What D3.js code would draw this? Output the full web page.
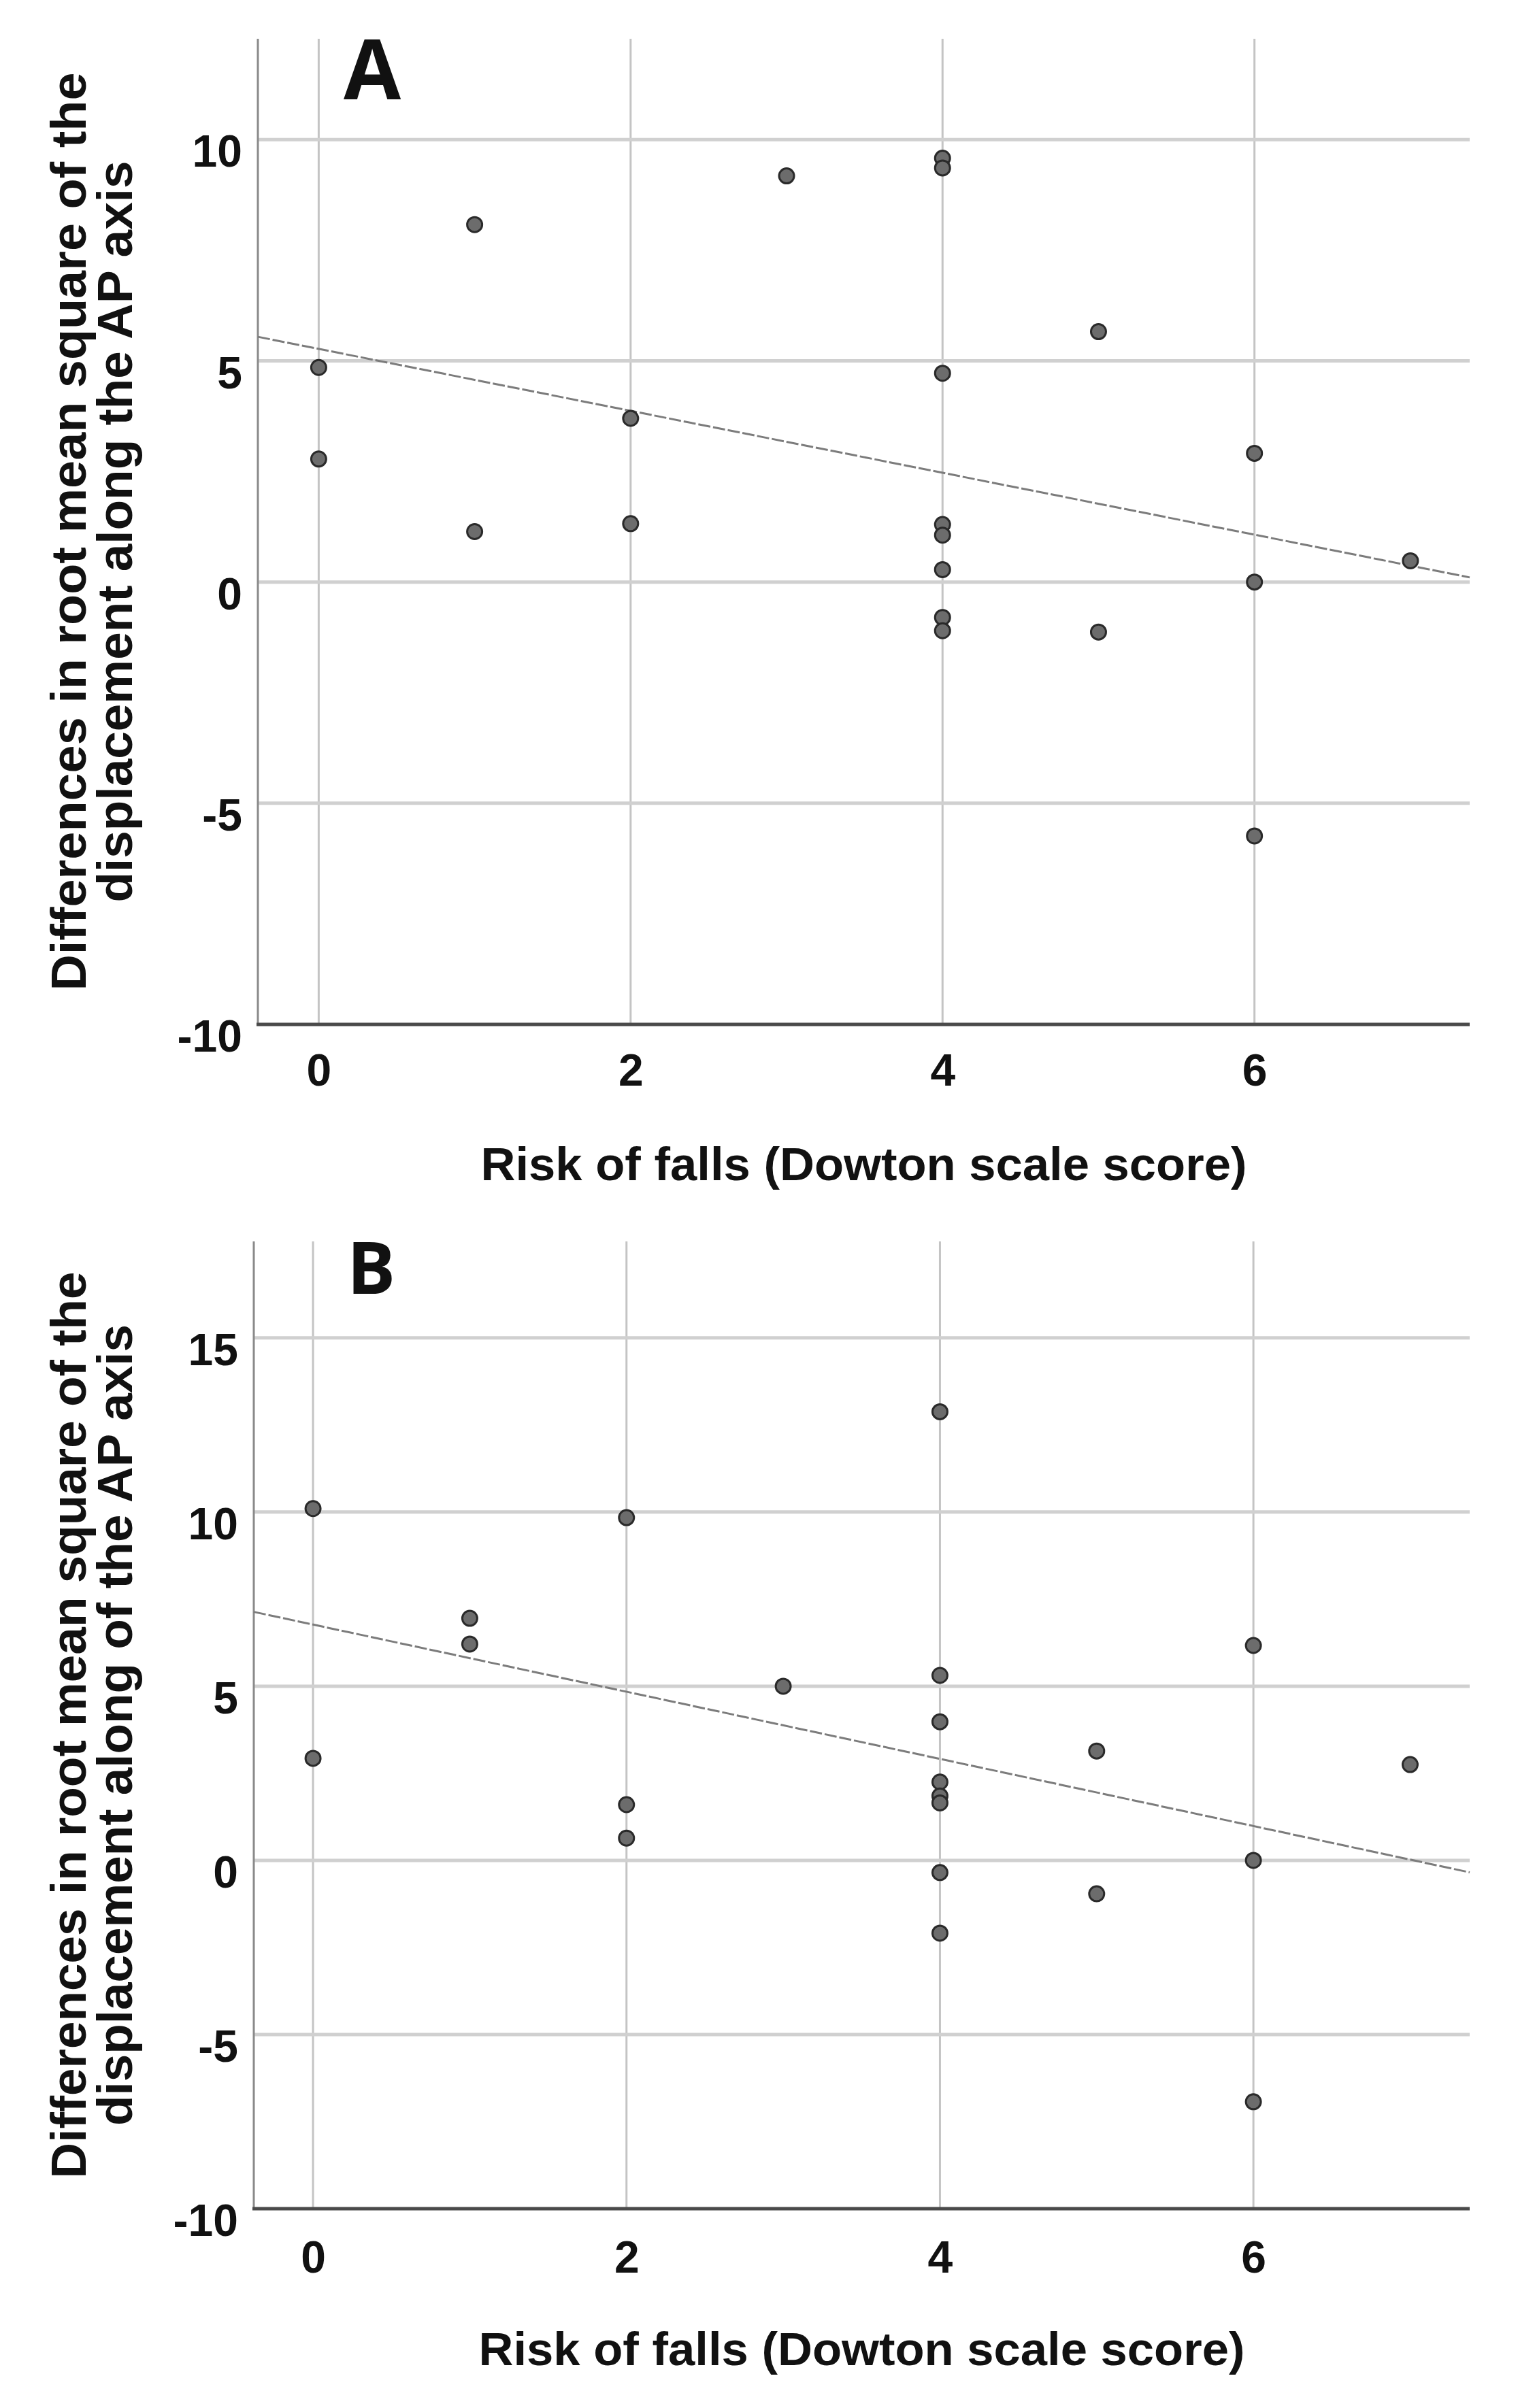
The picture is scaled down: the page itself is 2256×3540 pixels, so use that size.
<!DOCTYPE html>
<html>
<head>
<meta charset="utf-8">
<script src="https://cdn.jsdelivr.net/npm/d3@7"></script>
<style>
  body { margin: 0; background: #fff; }
  svg { display: block; }
  text { font-family: "Liberation Sans", Arial, sans-serif; font-weight: bold; fill: #111; }
</style>
</head>
<body>
<div id="chart"></div>
<script>
// values
var xTicks = [0, 2, 4, 6]
var yTicksA = [-10, -5, 0, 5, 10]
var yTicksB = [-10, -5, 0, 5, 10, 15]

// panel A: AP axis
var riskA = [0, 0, 1, 1, 2, 2, 3, 4, 4, 4, 4, 4, 4, 4, 4, 5, 5, 6, 6, 6, 7]
var diffA = [4.85, 2.78, 8.08, 1.14, 3.7, 1.32, 9.18, 9.58, 9.36, 4.72, 1.3, 1.06, 0.28, -0.8, -1.1, 5.66, -1.13, 2.91, 0.0, -5.74, 0.48]
var fitA = [5.27, -0.70]   // intercept, slope

// panel B
var riskB = [0, 0, 1, 1, 2, 2, 2, 3, 4, 4, 4, 4, 4, 4, 4, 4, 5, 5, 6, 6, 6, 7]
var diffB = [10.1, 2.93, 6.95, 6.21, 9.84, 1.6, 0.64, 5.0, 12.88, 5.31, 3.98, 2.25, 1.85, 1.65, -0.35, -2.09, 3.14, -0.96, 6.17, 0.0, -6.93, 2.75]
var fitB = [6.77, -0.964]

var xTitle = "Risk of falls (Dowton scale score)"
var yTitleA = ["Differences in root mean square of the", "displacement along the AP axis"]
var yTitleB = ["Differences in root mean square of the", "displacement along of the AP axis"]

var svgWidth = 2256
var svgHeight = 3540

var svg = d3.select("#chart")
    .append("svg")
    .attr("width", svgWidth)
    .attr("height", svgHeight)

svg.append("rect").attr("width", svgWidth).attr("height", svgHeight).attr("fill", "#fff")

function drawPanel(p) {
    var g = svg.append("g")

    var xScale = d3.scaleLinear().domain(p.xDomain).range([p.left, p.right])
    var yScale = d3.scaleLinear().domain(p.yDomain).range([p.bottom, p.top])

    // vertical grid
    g.append("g").selectAll("line")
        .data(xTicks)
        .enter()
        .append("line")
        .attr("x1", d => xScale(d)).attr("x2", d => xScale(d))
        .attr("y1", p.top).attr("y2", p.bottom)
        .attr("stroke", "#c4c4c4")
        .attr("stroke-width", 3)

    // horizontal grid
    g.append("g").selectAll("line")
        .data(p.yTicks.filter(d => d > p.yDomain[0]))
        .enter()
        .append("line")
        .attr("x1", p.left).attr("x2", p.right)
        .attr("y1", d => yScale(d)).attr("y2", d => yScale(d))
        .attr("stroke", "#d0d0d0")
        .attr("stroke-width", 5)

    // axis lines
    g.append("line")
        .attr("x1", p.left).attr("x2", p.left)
        .attr("y1", p.top).attr("y2", p.bottom)
        .attr("stroke", "#8a8a8a").attr("stroke-width", 3)
    g.append("line")
        .attr("x1", p.left - 2).attr("x2", p.right)
        .attr("y1", p.bottom).attr("y2", p.bottom)
        .attr("stroke", "#4a4a4a").attr("stroke-width", 5)

    // tick labels (plain hyphen for negatives, like SPSS)
    var yAxis = g.append("g")
        .attr("transform", `translate(${p.left}, 0)`)
        .call(d3.axisLeft(yScale).tickValues(p.yTicks).tickFormat(d => String(d)).tickSize(0).tickPadding(23))
    yAxis.select(".domain").remove()
    yAxis.selectAll("text")
        .attr("dy", "0.6em")
        .style("font-size", "66px")
        .style("font-family", "\"Liberation Sans\", Arial, sans-serif")
        .style("font-weight", "bold")
        .attr("fill", "#111")

    var xAxis = g.append("g")
        .attr("transform", `translate(0, ${p.bottom})`)
        .call(d3.axisBottom(xScale).tickValues(xTicks).tickFormat(d => String(d)).tickSize(0).tickPadding(p.xPad))
    xAxis.select(".domain").remove()
    xAxis.selectAll("text")
        .style("font-size", "66px")
        .style("font-family", "\"Liberation Sans\", Arial, sans-serif")
        .style("font-weight", "bold")
        .attr("fill", "#111")

    // fit line
    var line = d3.line()
        .x(d => xScale(d))
        .y(d => yScale(p.fit[0] + p.fit[1] * d))
    g.append("path")
        .datum(p.xDomain)
        .attr("d", line)
        .attr("fill", "none")
        .attr("stroke", "#7c7c7c")
        .attr("stroke-width", 3)
        .attr("stroke-dasharray", "18,4")

    // points
    g.append("g").selectAll("circle")
        .data(p.xs.map((d, i) => ({x: d, y: p.ys[i]})))
        .enter()
        .append("circle")
        .attr("cx", d => xScale(d.x))
        .attr("cy", d => yScale(d.y))
        .attr("r", 11)
        .attr("fill", "#6c6c6c")
        .attr("stroke", "#2a2a2a")
        .attr("stroke-width", 3)

    // panel letter
    g.append("text")
        .attr("x", p.letterX)
        .attr("y", p.letterY)
        .style("font-family", "\"Open Sans\", sans-serif")
        .style("font-size", p.letterSize + "px")
        .text(p.letter)

    // x title
    var xMid = (p.left + p.right) / 2
    g.append("text")
        .attr("x", xMid)
        .attr("y", p.xTitleY)
        .attr("text-anchor", "middle")
        .attr("textLength", 1126)
        .attr("lengthAdjust", "spacingAndGlyphs")
        .style("font-size", "68px")
        .text(xTitle)

    // y title, two lines
    var yMid = (p.top + p.bottom) / 2
    p.yTitle.forEach((t, i) => {
        g.append("text")
            .attr("transform", `translate(${126 + i * 68}, ${yMid}) rotate(-90)`)
            .attr("text-anchor", "middle")
            .attr("textLength", p.yTitleLen[i])
            .attr("lengthAdjust", "spacingAndGlyphs")
            .style("font-size", "72px")
            .text(t)
    })
}

drawPanel({
    xs: riskA, ys: diffA, fit: fitA, yTicks: yTicksA,
    xDomain: [-0.39, 7.38], yDomain: [-10, 12.28],
    left: 379, right: 2160, top: 57, bottom: 1506,
    xPad: 43, xTitleY: 1735,
    letter: "A", letterX: 505, letterY: 146, letterSize: 122,
    yTitle: yTitleA, yTitleLen: [1350, 1090]
})

drawPanel({
    xs: riskB, ys: diffB, fit: fitB, yTicks: yTicksB,
    xDomain: [-0.378, 7.38], yDomain: [-10, 17.77],
    left: 373, right: 2160, top: 1825, bottom: 3247,
    xPad: 47, xTitleY: 3477,
    letter: "B", letterX: 510, letterY: 1902, letterSize: 106,
    yTitle: yTitleB, yTitleLen: [1333, 1178]
})
</script>
</body>
</html>
